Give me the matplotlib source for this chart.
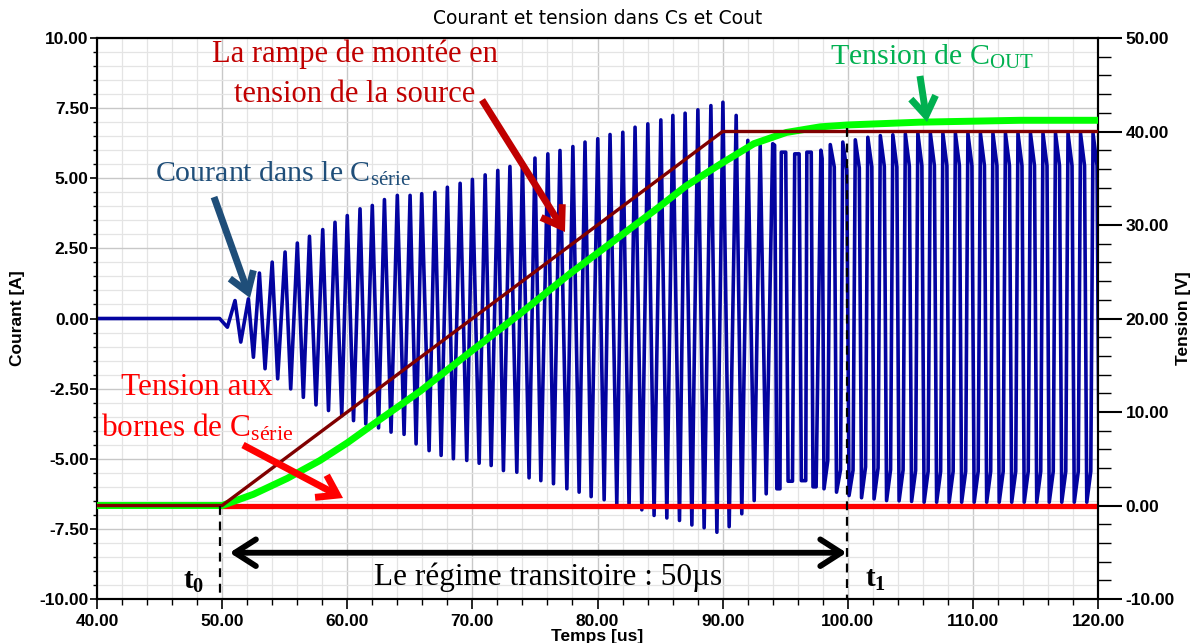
import matplotlib
matplotlib.use('Agg')
import matplotlib.pyplot as plt
from matplotlib.ticker import MultipleLocator, FormatStrFormatter

plt.rcParams['font.family'] = ['Liberation Sans', 'DejaVu Sans']
plt.rcParams['font.weight'] = 'bold'
plt.rcParams['mathtext.fontset'] = 'custom'
plt.rcParams['mathtext.rm'] = 'Liberation Serif:weight=normal'
plt.rcParams['mathtext.it'] = 'Liberation Serif:italic:weight=normal'
plt.rcParams['mathtext.bf'] = 'Liberation Serif:weight=bold'

# ---- courant dans Cs (axe gauche, A) ----
# creux de chaque oscillation : instant, valeur, durée du palier bas, remontée sur le palier
creux_t = [50.42, 51.49, 52.5, 53.43, 54.44, 55.48, 56.49, 57.5, 58.5, 59.56,
           60.5, 61.48, 62.5, 63.5, 64.54, 65.5, 66.54, 67.5, 68.48, 69.55,
           70.54, 71.5, 72.48, 73.55, 74.53, 75.47, 76.48, 77.55, 78.53, 79.49,
           80.53, 81.54, 82.52, 83.54, 84.52, 85.54, 86.55, 87.54, 88.52, 89.54,
           90.52, 91.53, 92.52, 93.48, 94.33, 95.23, 96.29, 97.22, 98.1, 99.1,
           100.1, 101.1, 102.1, 103.1, 104.1, 105.1, 106.1, 107.1, 108.1, 109.1,
           110.1, 111.1, 112.1, 113.1, 114.1, 115.1, 116.1, 117.1, 118.1, 119.1,
           120.1]
creux_i = [-0.31, -0.84, -1.38, -1.79, -2.15, -2.51, -2.81, -3.08, -3.28, -3.46,
           -3.64, -3.76, -3.90, -4.05, -4.13, -4.47, -4.71, -4.88, -5.00, -5.06,
           -5.16, -5.24, -5.42, -5.48, -5.68, -5.78, -5.89, -6.07, -6.19, -6.35,
           -6.46, -6.61, -6.73, -6.82, -7.02, -7.11, -7.20, -7.36, -7.46, -7.62,
           -7.42, -6.96, -6.49, -6.25, -6.07, -5.80, -5.78, -6.00, -6.07, -6.19,
           -6.31, -6.39, -6.43, -6.49, -6.50, -6.52, -6.55, -6.55, -6.55, -6.55,
           -6.55, -6.55, -6.55, -6.55, -6.55, -6.55, -6.55, -6.55, -6.55, -6.55,
           -6.55]
creux_duree = [0.0] * 44 + [0.25, 0.35, 0.35, 0.25, 0.3] + [0.32] * 22
creux_montee = [0.0] * 48 + [1.0, 0.8, 0.9] + [1.1] * 20

# sommets : instant, valeur, durée du palier haut, chute sur le palier
sommet_t = [51.03, 52.1, 52.98, 54.0, 55.03, 56.01, 56.98, 58.04, 59.02, 60.0,
            61.02, 62.0, 62.97, 64.0, 65.02, 65.95, 67.0, 68.0, 69.02, 70.0,
            71.02, 72.03, 73.0, 74.0, 75.0, 76.03, 77.0, 78.03, 79.0, 80.02,
            81.0, 82.02, 83.0, 84.02, 85.06, 86.02, 87.0, 88.02, 89.06, 90.02,
            91.08, 92.01, 93.0, 94.0, 94.69, 95.76, 96.73, 97.85, 98.6, 99.6,
            100.6, 101.6, 102.6, 103.6, 104.6, 105.6, 106.6, 107.6, 108.6, 109.6,
            110.6, 111.6, 112.6, 113.6, 114.6, 115.6, 116.6, 117.6, 118.6, 119.6]
sommet_i = [0.64, 0.70, 1.62, 2.01, 2.37, 2.69, 2.93, 3.17, 3.43, 3.67,
            3.91, 4.03, 4.24, 4.39, 4.39, 4.45, 4.50, 4.68, 4.82, 4.96,
            5.12, 5.28, 5.42, 5.57, 5.72, 5.87, 5.99, 6.13, 6.29, 6.41,
            6.56, 6.64, 6.82, 6.94, 7.08, 7.24, 7.32, 7.44, 7.59, 7.71,
            7.24, 6.35, 6.17, 6.23, 5.93, 5.87, 5.93, 6.00, 6.20, 6.29,
            6.37, 6.46, 6.52, 6.55, 6.58, 6.60, 6.60, 6.60, 6.60, 6.60,
            6.60, 6.60, 6.60, 6.60, 6.60, 6.60, 6.60, 6.60, 6.60, 6.60]
sommet_duree = [0.0] * 43 + [0.15, 0.35, 0.35, 0.35, 0.1] + [0.32] * 22
sommet_chute = [0.0] * 43 + [0.05, 0.0, 0.0, 0.0, 0.3, 0.8, 1.0, 1.0, 1.05, 1.1] + [1.15] * 17

# ---- tensions (axe droit, V) ----
source_t = [40.0, 50.0, 90.0, 120.0]
source_v = [0.0, 0.0, 40.0, 40.0]
cout_t = [40.0, 50.0, 52.5, 55.2, 57.8, 60.0, 62.5, 65.8, 70.0, 73.8, 77.8, 81.8,
          84.5, 87.1, 89.8, 92.5, 95.1, 97.8, 100.0, 105.8, 113.8, 120.0]
cout_v = [0.0, 0.0, 1.2, 2.9, 4.8, 6.7, 9.1, 12.2, 16.6, 20.5, 24.8, 28.8,
          31.5, 34.2, 36.5, 38.7, 39.9, 40.5, 40.7, 41.0, 41.2, 41.2]
cserie_t = [50.0, 120.0]
cserie_v = [0.0, 0.0]

# polyligne du courant
cur_t = [40.0, 49.8]
cur_i = [0.0, 0.0]
for k in range(len(creux_t)):
    cur_t.append(creux_t[k])
    cur_i.append(creux_i[k])
    if creux_duree[k] > 0:
        cur_t.append(creux_t[k] + creux_duree[k])
        cur_i.append(creux_i[k] + creux_montee[k])
    if k < len(sommet_t):
        cur_t.append(sommet_t[k])
        cur_i.append(sommet_i[k])
        if sommet_duree[k] > 0:
            cur_t.append(sommet_t[k] + sommet_duree[k])
            cur_i.append(sommet_i[k] - sommet_chute[k])

fig = plt.figure(figsize=(11.99, 6.43), dpi=100)
ax = fig.add_axes([0.0809, 0.0684, 0.8349, 0.8725])
ax2 = ax.twinx()

ax.plot(cur_t, cur_i, color='#0303A0', lw=2.6, solid_joinstyle='round', zorder=3)

ax2.plot(cserie_t, cserie_v, color='#FF0000', lw=3.8, zorder=2)
ax2.plot(cout_t, cout_v, color='#00FF00', lw=5.0, solid_capstyle='butt', zorder=3)
ax2.plot(source_t, source_v, color='#800000', lw=2.4, zorder=4)

ax.set_xlim(40, 120)
ax.set_ylim(-10, 10)
ax2.set_ylim(-10, 50)

ax.xaxis.set_major_locator(MultipleLocator(10))
ax.xaxis.set_minor_locator(MultipleLocator(2))
ax.yaxis.set_major_locator(MultipleLocator(2.5))
ax.yaxis.set_minor_locator(MultipleLocator(0.5))
ax2.yaxis.set_major_locator(MultipleLocator(10))
ax2.yaxis.set_minor_locator(MultipleLocator(2))
for a in (ax.xaxis, ax.yaxis, ax2.yaxis):
    a.set_major_formatter(FormatStrFormatter('%.2f'))

ax.grid(which='major', color='#c8c8c8', lw=1.0)
ax.grid(which='minor', color='#e4e4e4', lw=0.9)
ax.set_axisbelow(True)

ax.tick_params(which='major', length=7, width=1.2, labelsize=12.5, pad=4)
ax.tick_params(which='minor', length=4, width=1.0)
ax.tick_params(axis='y', which='major', length=5, pad=1)
ax.tick_params(axis='y', which='minor', length=3)
ax2.tick_params(which='major', length=17, width=1.5, labelsize=12.5, pad=3)
ax2.tick_params(which='minor', length=9, width=1.0)
for s in ax.spines.values():
    s.set_linewidth(1.5)
for s in ax2.spines.values():
    s.set_linewidth(1.5)

ax.set_xlabel('Temps [us]', fontsize=12.5, fontweight='bold')
ax.set_ylabel('Courant [A]', fontsize=12.5, fontweight='bold')
ax2.set_ylabel('Tension [V]', fontsize=12.5, fontweight='bold')
ax.xaxis.set_label_coords(0.5, -0.0535)
ax.yaxis.set_label_coords(-0.072, 0.5)
ax2.yaxis.set_label_coords(1.078, 0.5)
ax.set_title('Courant et tension dans Cs et Cout', family='DejaVu Sans', fontsize=13.5,
             fontweight='normal', pad=10)

# lignes pointillées t0 / t1
ax2.plot([49.8, 49.8], [0.0, -10.0], color='black', lw=1.6, ls=(0, (4, 3)), zorder=5)
ax2.plot([99.9, 99.9], [40.4, -10.0], color='black', lw=1.6, ls=(0, (4, 3)), zorder=5)

serif = 'Liberation Serif'
ax2.annotate('', xy=(50.6, -5.05), xytext=(99.9, -5.05),
             arrowprops=dict(arrowstyle='<->,head_length=0.5,head_width=0.32', lw=4.2,
                             color='black', mutation_scale=30, shrinkA=0, shrinkB=0), zorder=6)
ax2.text(76.04, -8.5, 'Le régime transitoire : 50µs', family=serif, fontweight='normal',
         fontsize=22.5, ha='center', va='baseline')
ax2.text(46.9, -8.9, r'$\mathbf{t_0}$', fontsize=21, ha='left', va='baseline')
ax2.text(101.4, -8.7, r'$\mathbf{t_1}$', fontsize=21, ha='left', va='baseline')

# annotations
def fleche(x0, y0, x1, y1, c):
    ax2.annotate('', xy=(x1, y1), xytext=(x0, y0),
                 arrowprops=dict(arrowstyle='->,head_length=0.45,head_width=0.3', lw=5,
                                 color=c, mutation_scale=30, shrinkA=0, shrinkB=0,
                                 joinstyle='miter', capstyle='butt'), zorder=6)

ax2.text(60.62, 47.43, 'La rampe de montée en', family=serif, fontweight='normal',
         fontsize=22, color='#C00000', ha='center', va='baseline')
ax2.text(60.62, 43.16, 'tension de la source', family=serif, fontweight='normal',
         fontsize=22, color='#C00000', ha='center', va='baseline')
fleche(70.77, 43.37, 77.4, 29.25, '#C00000')

ax2.text(44.64, 34.6, r'Courant dans le C$_{\mathrm{série}}$', family=serif, fontweight='normal',
         fontsize=21.5, color='#1F4E79', ha='left', va='baseline')
fleche(49.35, 32.99, 52.23, 22.19, '#1F4E79')

ax2.text(98.58, 47.11, r'Tension de C$_{\mathrm{OUT}}$', family=serif, fontweight='normal',
         fontsize=21.5, color='#00B050', ha='left', va='baseline')
fleche(105.77, 45.94, 106.33, 41.02, '#00B050')

ax2.text(47.99, 11.82, 'Tension aux', family=serif, fontweight='normal',
         fontsize=22.5, color='#FF0000', ha='center', va='baseline')
ax2.text(47.99, 7.43, r'bornes de C$_{\mathrm{série}}$', family=serif, fontweight='normal',
         fontsize=22.5, color='#FF0000', ha='center', va='baseline')
fleche(51.67, 6.47, 59.66, 0.8, '#FF0000')

fig.savefig('out.png', dpi=100)
